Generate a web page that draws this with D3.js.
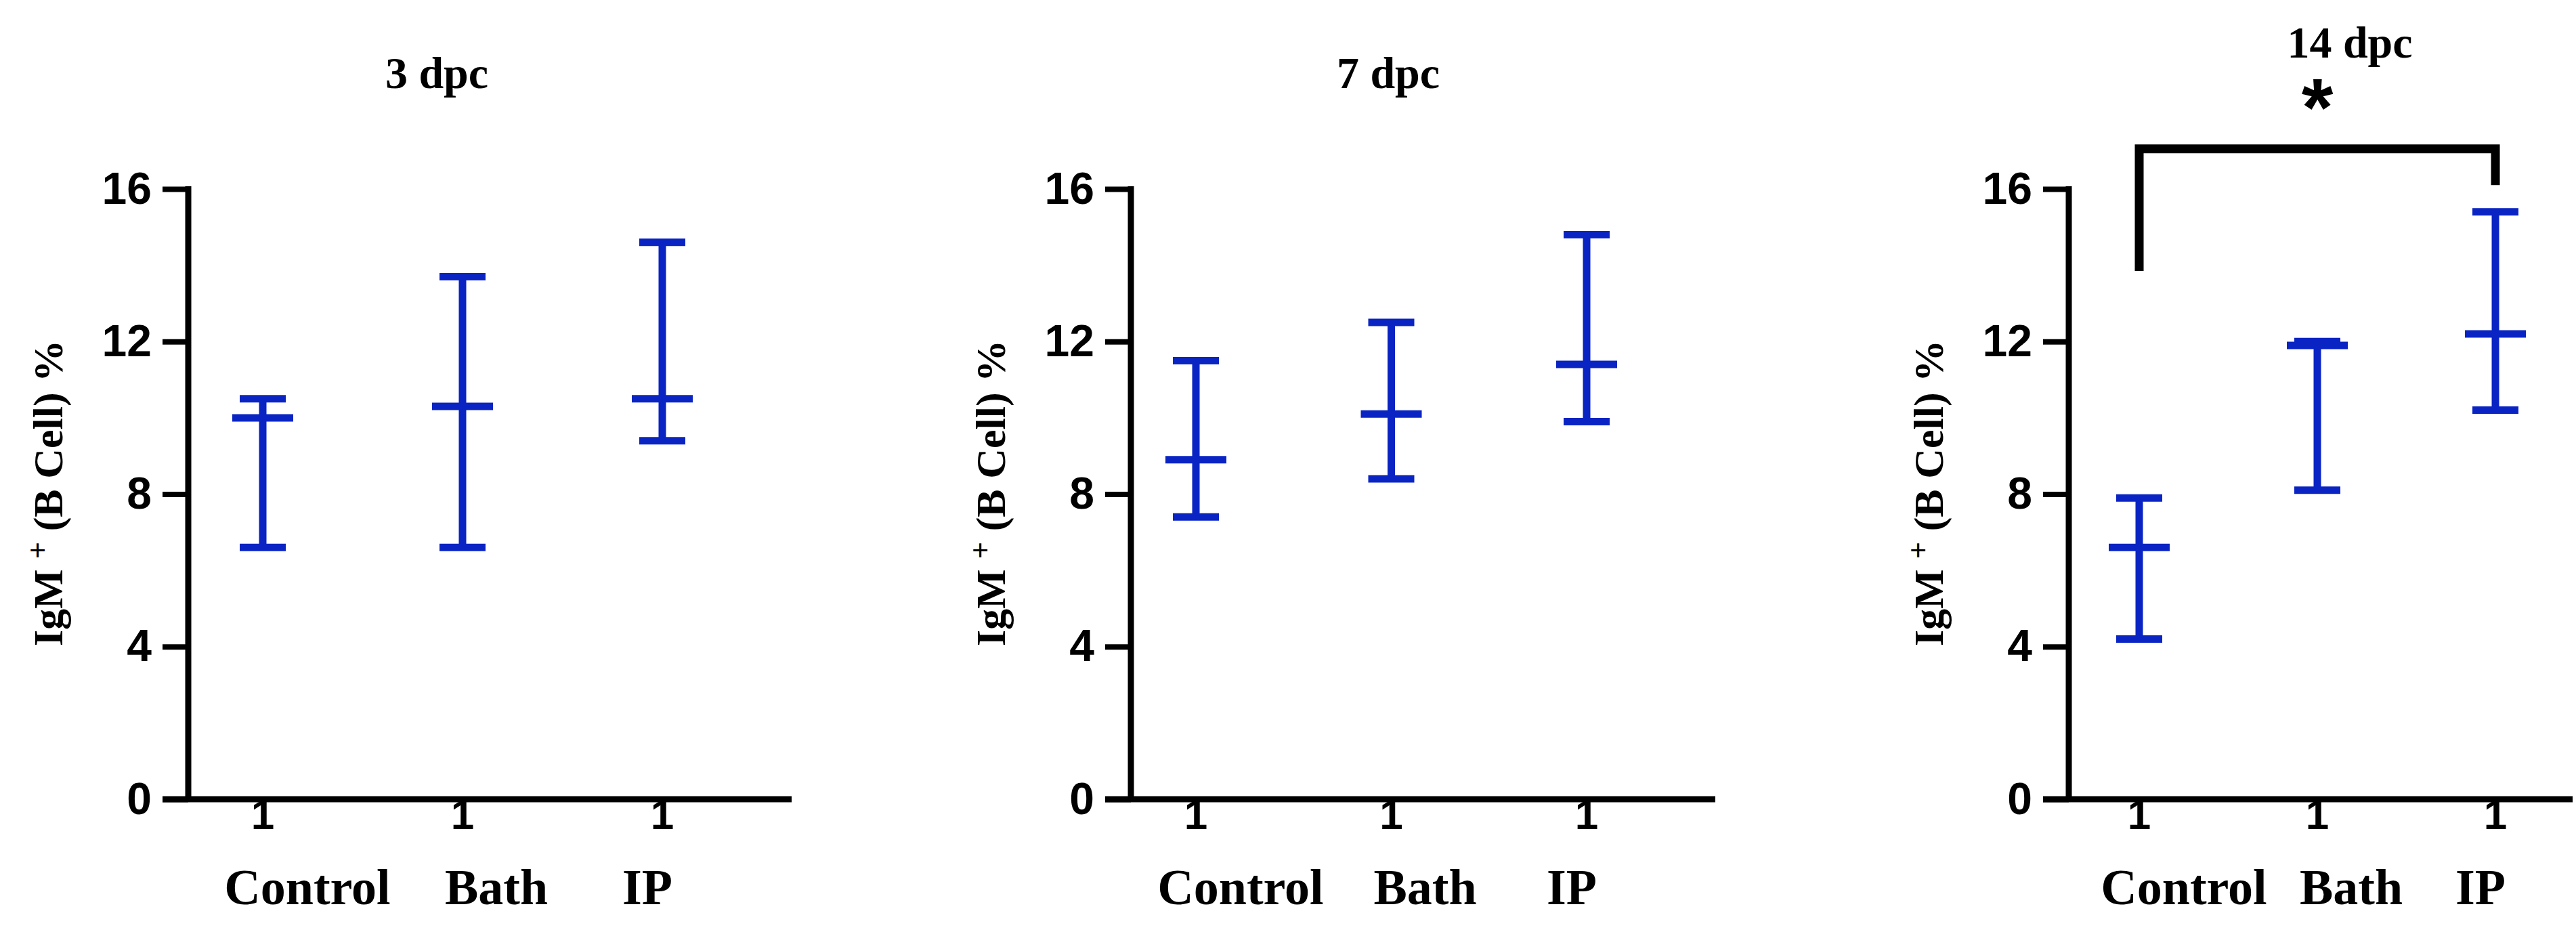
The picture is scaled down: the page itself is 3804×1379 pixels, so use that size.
<!DOCTYPE html>
<html>
<head>
<meta charset="utf-8">
<script src="https://cdn.jsdelivr.net/npm/d3@7"></script>
<style>
  body { margin: 0; background: #fff; }
</style>
</head>
<body>
<svg id="chart" width="3804" height="1379"></svg>
<script>
'use strict';
const groups = ['Control', 'Bath', 'IP'];
const titles = ['3 dpc', '7 dpc', '14 dpc'];
const yTicks = [0, 4, 8, 12, 16];
// mean, upper, lower per panel
const means = [[10.0, 10.3, 10.5], [8.9, 10.1, 11.4], [6.6, 11.9, 12.2]];
const uppers = [[10.5, 13.7, 14.6], [11.5, 12.5, 14.8], [7.9, 12.0, 15.4]];
const lowers = [[6.6, 6.6, 9.4], [7.4, 8.4, 9.9], [4.2, 8.1, 10.2]];
// significance bracket on 14 dpc: left end, right end, top
const bracket = { from: 'Control', to: 'IP', left: 13.85, right: 16.1, top: 17.05, label: '*' };

const blue = '#0a24c4';
const svg = d3.select('#chart');

// layout of each panel (pixel placement only)
const panels = [
  { axisX: 278, xEnd: 1169, cat: [388, 978], labelDx: [66, 50, -22], titleX: 645, titleY: 130 },
  { axisX: 1670, xEnd: 2533, cat: [1766, 2343], labelDx: [66, 50, -22], titleX: 2050, titleY: 130 },
  { axisX: 3055, xEnd: 3799, cat: [3159, 3685], labelDx: [66, 50, -22], titleX: 3470, titleY: 85 }
];

const y = d3.scaleLinear().domain([0, 16]).range([1180, 279]);

panels.forEach((p, i) => {
  const g = svg.append('g');
  const x = d3.scalePoint().domain(groups).range(p.cat);

  // y axis
  const yAxis = g.append('g')
    .attr('transform', `translate(${p.axisX},0)`)
    .call(d3.axisLeft(y).tickValues(yTicks).tickSize(38).tickPadding(16));
  yAxis.select('.domain').remove();
  yAxis.selectAll('line').attr('stroke', '#000').attr('stroke-width', 8);
  yAxis.selectAll('text')
    .attr('font-family', 'Liberation Sans, Arial, sans-serif')
    .attr('font-weight', 'bold').attr('font-size', 66).attr('fill', '#000');
  g.append('line')
    .attr('x1', p.axisX).attr('x2', p.axisX)
    .attr('y1', y(16) - 4).attr('y2', y(0) + 4)
    .attr('stroke', '#000').attr('stroke-width', 9);

  // x axis line
  g.append('line')
    .attr('x1', p.axisX - 38).attr('x2', p.xEnd)
    .attr('y1', y(0)).attr('y2', y(0))
    .attr('stroke', '#000').attr('stroke-width', 9);

  // "1" tick marks under each group
  g.selectAll('.tk').data(groups).enter().append('text')
    .attr('x', d => x(d)).attr('y', y(0) + 44)
    .attr('text-anchor', 'middle')
    .attr('font-family', 'Liberation Sans, Arial, sans-serif')
    .attr('font-weight', 'bold').attr('font-size', 62)
    .text('1');

  // group labels
  g.selectAll('.cl').data(groups).enter().append('text')
    .attr('x', (d, j) => x(d) + p.labelDx[j]).attr('y', 1335)
    .attr('text-anchor', 'middle')
    .attr('font-family', 'Liberation Serif, Times New Roman, serif')
    .attr('font-weight', 'bold').attr('font-size', 74)
    .text(d => d);

  // error bars
  groups.forEach((grp, j) => {
    const cx = x(grp);
    const eb = g.append('g').attr('stroke', blue).attr('stroke-width', 11);
    eb.append('line').attr('x1', cx).attr('x2', cx)
      .attr('y1', y(uppers[i][j])).attr('y2', y(lowers[i][j]));
    [uppers[i][j], lowers[i][j]].forEach(v => {
      eb.append('line').attr('x1', cx - 34).attr('x2', cx + 34)
        .attr('y1', y(v)).attr('y2', y(v));
    });
    eb.append('line').attr('x1', cx - 45).attr('x2', cx + 45)
      .attr('y1', y(means[i][j])).attr('y2', y(means[i][j]));
  });

  // title
  g.append('text')
    .attr('x', p.titleX).attr('y', p.titleY)
    .attr('text-anchor', 'middle')
    .attr('font-family', 'Liberation Serif, Times New Roman, serif')
    .attr('font-weight', 'bold').attr('font-size', 66)
    .text(titles[i]);

  // y label
  const yl = g.append('text')
    .attr('transform', `translate(${p.axisX - 186},728) rotate(-90)`)
    .attr('text-anchor', 'middle')
    .attr('font-family', 'Liberation Serif, Times New Roman, serif')
    .attr('font-weight', 'bold').attr('font-size', 62);
  yl.append('tspan').text('IgM ');
  yl.append('tspan').attr('dy', -22).attr('font-size', 44).text('+');
  yl.append('tspan').attr('dy', 22).text(' (B Cell) %');

  // significance bracket
  if (i === 2) {
    const bx1 = x(bracket.from), bx2 = x(bracket.to);
    g.append('path')
      .attr('d', d3.line()([[bx1, y(bracket.left)], [bx1, y(bracket.top)], [bx2, y(bracket.top)], [bx2, y(bracket.right)]]))
      .attr('fill', 'none').attr('stroke', '#000').attr('stroke-width', 13);
    g.append('text')
      .attr('x', (bx1 + bx2) / 2).attr('y', 200)
      .attr('text-anchor', 'middle')
      .attr('font-family', 'Liberation Sans, Arial, sans-serif')
      .attr('font-weight', 'bold').attr('font-size', 120)
      .text(bracket.label);
  }
});
</script>
</body>
</html>
